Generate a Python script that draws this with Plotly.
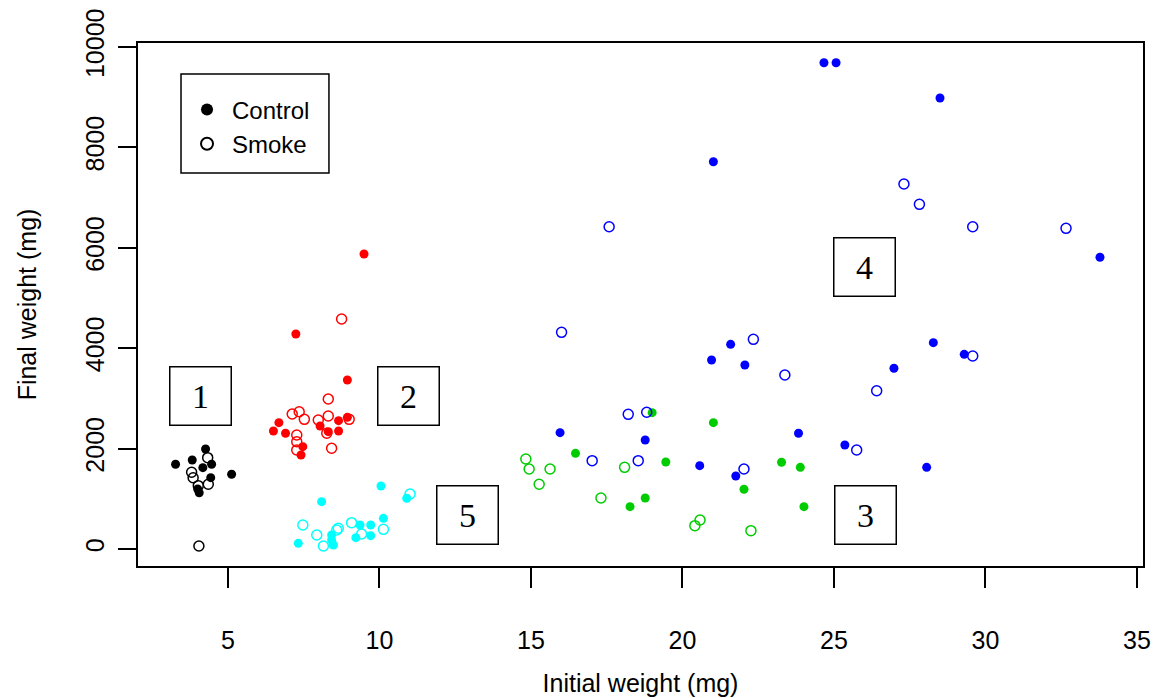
import plotly.graph_objects as go

# ---------------- data ----------------
black_ctrl_x = [3.27, 3.82, 4.26, 4.17, 4.46, 4.43, 5.12, 4.00, 4.05]
black_ctrl_y = [1687, 1773, 1992, 1620, 1687, 1421, 1488, 1195, 1120]
black_smoke_x = [4.33, 3.80, 3.85, 4.35, 4.02, 4.04]
black_smoke_y = [1819, 1528, 1420, 1289, 1261, 60]

red_ctrl_x = [7.24, 8.94, 6.68, 6.50, 6.90, 7.47, 7.41, 8.04, 8.31, 8.65, 8.65, 8.94, 9.49]
red_ctrl_y = [4283, 3366, 2516, 2351, 2305, 2038, 1873, 2450, 2337, 2556, 2351, 2623, 5876]
red_smoke_x = [8.75, 8.31, 7.12, 7.35, 7.52, 7.98, 8.31, 9.00, 8.26, 7.27, 7.27, 7.27, 8.42]
red_smoke_y = [4582, 2988, 2689, 2735, 2583, 2570, 2649, 2583, 2305, 2271, 2137, 1972, 2006]

green_ctrl_x = [19.00, 21.02, 16.47, 19.45, 23.27, 23.89, 22.03, 18.77, 18.27, 24.01]
green_ctrl_y = [2716, 2516, 1906, 1733, 1727, 1627, 1189, 1016, 843, 843]
green_smoke_x = [14.83, 14.94, 15.63, 15.27, 17.31, 18.09, 20.41, 20.58, 22.26]
green_smoke_y = [1793, 1594, 1594, 1289, 1016, 1627, 464, 578, 365]

blue_ctrl_x = [24.67, 25.07, 28.50, 21.02, 33.78, 28.28, 29.30, 26.98, 21.59, 20.96,
               22.06, 15.96, 18.77, 23.83, 25.36, 20.57, 21.76, 28.06]
blue_ctrl_y = [9687, 9687, 8984, 7715, 5811, 4110, 3878, 3600, 4077, 3765,
               3665, 2317, 2171, 2305, 2072, 1660, 1454, 1627]
blue_smoke_x = [27.31, 27.82, 29.58, 32.66, 17.58, 16.01, 22.34, 23.38, 26.41, 29.58,
                18.21, 18.82, 17.02, 18.54, 22.03, 25.75]
blue_smoke_y = [7271, 6866, 6420, 6388, 6420, 4316, 4177, 3466, 3153, 3845,
                2683, 2723, 1759, 1759, 1594, 1972]

cyan_ctrl_x = [10.05, 8.09, 10.90, 7.32, 10.13, 9.36, 9.71, 9.22, 9.71, 8.42, 8.42, 8.48]
cyan_ctrl_y = [1255, 943, 1010, 113, 611, 478, 478, 225, 265, 279, 179, 80]
cyan_smoke_x = [7.47, 7.93, 8.15, 8.64, 8.59, 9.08, 9.41, 10.13, 11.01]
cyan_smoke_y = [478, 279, 60, 412, 378, 524, 299, 392, 1096]

group_labels = ["1", "2", "3", "4", "5"]
x_ticks = [5, 10, 15, 20, 25, 30, 35]
y_ticks = [0, 2000, 4000, 6000, 8000, 10000]

# ---------------- figure ----------------
FONT = "Liberation Sans, Arial, sans-serif"
groups = [
    ("#000000", black_ctrl_x, black_ctrl_y, black_smoke_x, black_smoke_y),
    ("#FF0000", red_ctrl_x, red_ctrl_y, red_smoke_x, red_smoke_y),
    ("#00CD00", green_ctrl_x, green_ctrl_y, green_smoke_x, green_smoke_y),
    ("#0000FF", blue_ctrl_x, blue_ctrl_y, blue_smoke_x, blue_smoke_y),
    ("#00FFFF", cyan_ctrl_x, cyan_ctrl_y, cyan_smoke_x, cyan_smoke_y),
]

fig = go.Figure()
for i, (col, cx, cy, sx, sy) in enumerate(groups):
    fig.add_trace(go.Scatter(
        x=cx, y=cy, mode="markers", name="Control", showlegend=(i == 0),
        marker=dict(symbol="circle", size=9, color=col, line=dict(width=0)),
    ))
    fig.add_trace(go.Scatter(
        x=sx, y=sy, mode="markers", name="Smoke", showlegend=(i == 0),
        marker=dict(symbol="circle-open", size=10, color=col, line=dict(width=1.5, color=col)),
    ))

# numbered boxes (x, y centres in data units)
box_pos = {"1": (4.09, 3054), "2": (10.97, 3054), "3": (26.04, 687), "4": (26.02, 5608), "5": (12.92, 677)}
for lab in group_labels:
    bx, by = box_pos[lab]
    fig.add_annotation(
        x=bx, y=by, xref="x", yref="y", text=lab, showarrow=False,
        font=dict(family="Liberation Serif, Times New Roman, serif", size=34, color="black"),
        width=56, height=53, borderpad=2, borderwidth=1.5, bordercolor="black",
        bgcolor="white", align="center", valign="middle",
    )

# legend frame (R-style box around the legend entries)
fig.add_shape(type="rect", xref="paper", yref="paper",
              x0=0.0428, x1=0.1900, y0=0.7514, y1=0.9407,
              line=dict(color="black", width=1.5), fillcolor="rgba(0,0,0,0)", layer="above")

fig.update_layout(
    width=1155, height=698,
    margin=dict(l=138, r=12, t=43, b=132),
    paper_bgcolor="white", plot_bgcolor="white",
    font=dict(family=FONT, size=25, color="black"),
    showlegend=True,
    legend=dict(
        x=0.0438, y=0.915, xanchor="left", yanchor="top",
        borderwidth=0, bgcolor="rgba(0,0,0,0)",
        font=dict(family=FONT, size=24, color="black"),
        itemsizing="constant", itemwidth=40,
    ),
    xaxis=dict(
        range=[2.03, 35.2], tickmode="array", tickvals=x_ticks,
        ticktext=[str(v) for v in x_ticks],
        showgrid=False, zeroline=False,
        showline=True, mirror=True, linecolor="black", linewidth=1.5,
        ticks="outside", ticklen=20, tickwidth=1.5, tickcolor="black",
        ticklabelstandoff=31,
        title=dict(text="Initial weight (mg)", standoff=22, font=dict(family=FONT, size=25)),
        automargin=False,
    ),
    yaxis=dict(
        range=[-339, 10080], tickmode="array", tickvals=y_ticks,
        ticktext=[str(v) for v in y_ticks], tickangle=-90,
        showgrid=False, zeroline=False,
        showline=True, mirror=True, linecolor="black", linewidth=1.5,
        ticks="outside", ticklen=18, tickwidth=1.5, tickcolor="black",
        ticklabelstandoff=4,
        title=dict(text="Final weight (mg)", standoff=38, font=dict(family=FONT, size=25)),
        automargin=False,
    ),
)

fig.write_html("out.html")
